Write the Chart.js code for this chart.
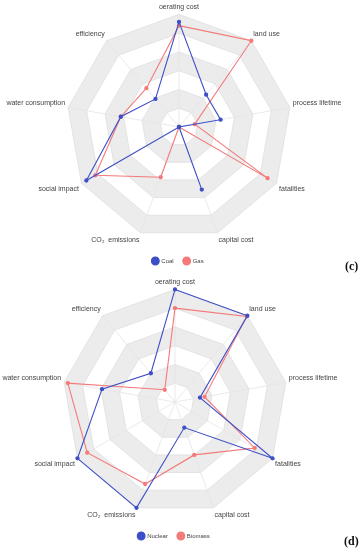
<!DOCTYPE html>
<html>
<head>
<meta charset="utf-8">
<script src="https://cdn.jsdelivr.net/npm/chart.js@4/dist/chart.umd.min.js"></script>
<style>
html,body{margin:0;padding:0;background:#fff;width:360px;height:550px;overflow:hidden;position:relative;}
.wrap{position:absolute;width:360px;height:275px;}
.cap{position:absolute;font-family:"Liberation Serif","DejaVu Serif",serif;font-weight:bold;font-size:12px;color:#111;}
</style>
</head>
<body>
<div class="wrap" id="w1" style="left:-2px;top:-1px;"><canvas id="c1" width="360" height="275"></canvas></div>
<div class="wrap" id="w2" style="left:-6px;top:274px;"><canvas id="c2" width="360" height="275"></canvas></div>
<div class="cap" style="left:345px;top:259px;">(c)</div>
<div class="cap" style="left:344px;top:534px;">(d)</div>
<script>
const categories = ["oerating cost","land use","process lifetime","fatalities","capital cost","CO\u2082  emissions","social impact","water consumption","efficiency"];
const scaleTicks = [0,1,2,3,4,5,6];

const coal    = [5.6, 2.25, 2.25, 0, 3.55, 0, 5.7, 3.15, 1.95];
const gas     = [5.4, 6.0, 0.85, 5.45, 0, 2.85, 5.15, 3.15, 2.7];
const nuclear = [6.0, 6.0, 1.35, 6.0, 1.45, 6.0, 6.0, 3.95, 2.0];
const biomass = [5.0, 5.95, 1.6, 4.9, 3.0, 4.65, 5.4, 5.8, 0.85];

const BLUE = '#3d4fc6';
const RED = '#f47a7a';

const bandPlugin = {
  id: 'bands',
  beforeDraw(chart) {
    const s = chart.scales.r;
    const ctx = chart.ctx;
    const n = chart.data.labels.length;
    for (let k = scaleTicks.length - 1; k >= 1; k--) {
      const v = scaleTicks[k];
      ctx.beginPath();
      for (let i = 0; i < n; i++) {
        const p = s.getPointPositionForValue(i, v);
        if (i === 0) ctx.moveTo(p.x, p.y); else ctx.lineTo(p.x, p.y);
      }
      ctx.closePath();
      ctx.fillStyle = (k % 2 === 0) ? '#ececec' : '#ffffff';
      ctx.fill();
    }
  }
};

function makeChart(id, names, series) {
  const colors = [BLUE, RED];
  return new Chart(document.getElementById(id), {
    type: 'radar',
    data: {
      labels: categories,
      datasets: series.map((d, i) => ({
        label: names[i],
        data: d,
        borderColor: colors[i],
        backgroundColor: colors[i],
        pointBackgroundColor: colors[i],
        pointBorderColor: colors[i],
        borderWidth: 1.1,
        pointRadius: 1.6,
        fill: false,
        tension: 0
      }))
    },
    options: {
      responsive: false,
      animation: false,
      devicePixelRatio: 1,
      layout: { padding: 0 },
      plugins: {
        legend: {
          position: 'bottom',
          labels: {
            usePointStyle: true,
            pointStyle: 'circle',
            boxHeight: 5.5,
            font: { size: 6, family: 'Liberation Sans' },
            color: '#444',
            padding: 10
          }
        },
        tooltip: { enabled: false }
      },
      scales: {
        r: {
          min: scaleTicks[0],
          max: scaleTicks[scaleTicks.length - 1],
          ticks: { display: false, stepSize: 1 },
          grid: { color: '#dedede', lineWidth: 0.8 },
          angleLines: { color: '#e4e4e4', lineWidth: 0.8 },
          pointLabels: {
            font: { size: 7, family: 'Liberation Sans' },
            color: '#444',
            padding: 3
          }
        }
      }
    },
    plugins: [bandPlugin]
  });
}

makeChart('c1', ['Coal', 'Gas'], [coal, gas]);
makeChart('c2', ['Nuclear', 'Biomass'], [nuclear, biomass]);
</script>
</body>
</html>
